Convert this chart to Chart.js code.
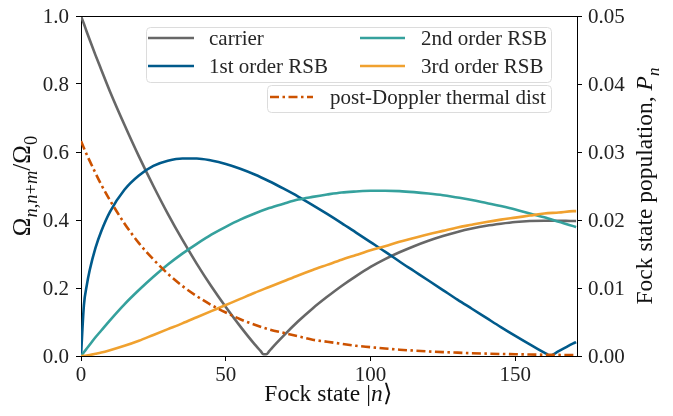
<!DOCTYPE html>
<html>
<head>
<meta charset="utf-8">
<script src="https://cdn.jsdelivr.net/npm/chart.js@4/dist/chart.umd.min.js"></script>
<style>
  html,body{margin:0;padding:0;background:#fff;}
  #wrap{position:relative;width:673px;height:416px;overflow:hidden;}
  canvas{position:absolute;left:0;top:0;}
</style>
</head>
<body>
<div id="wrap">
  <canvas id="c" width="673" height="416"></canvas>
</div>
<script>
// ---- data ----
const xTicks = [0, 50, 100, 150];
const yTicks = [0.0, 0.2, 0.4, 0.6, 0.8, 1.0];
const y2Ticks = [0.00, 0.01, 0.02, 0.03, 0.04, 0.05];

const seriesNames = ["carrier", "1st order RSB", "2nd order RSB", "3rd order RSB", "post-Doppler thermal dist"];

const nGrid = [0,1,2,3,5,7,10,15,20,25,30,35,40,45,50,55,60,65,70,75,80,85,90,95,100,105,110,115,120,125,130,135,140,145,150,155,160,165,170,171];

const carrierN = [0,1,2,3,5,7,10,15,20,25,30,35,40,45,50,55,60,62,63,64,65,66,70,75,80,85,90,95,100,105,110,115,120,125,130,135,140,145,150,155,160,165,170,171];
const carrierVals = [1.000,0.977,0.953,0.930,0.885,0.842,0.778,0.680,0.587,0.500,0.418,0.342,0.271,0.205,0.144,0.087,0.034,0.015,0.005,0.005,0.014,0.024,0.060,0.102,0.140,0.174,0.206,0.235,0.262,0.285,0.305,0.323,0.339,0.353,0.365,0.375,0.383,0.389,0.394,0.397,0.398,0.398,0.397,0.397];

const rsb1N = [0,1,2,3,5,7,10,15,20,25,30,35,40,45,50,55,60,65,70,75,80,85,90,95,100,105,110,115,120,125,130,135,140,145,150,155,160,161,162,163,165,170,171];
const rsb1Vals = [0,0.149,0.208,0.252,0.318,0.367,0.424,0.489,0.531,0.559,0.574,0.581,0.581,0.575,0.565,0.551,0.534,0.514,0.492,0.469,0.444,0.418,0.391,0.363,0.335,0.307,0.278,0.250,0.222,0.194,0.166,0.139,0.112,0.085,0.059,0.034,0.010,0.005,0.000,0.004,0.014,0.037,0.041];

const rsb2Vals = [0,0.011,0.022,0.033,0.055,0.075,0.105,0.152,0.194,0.233,0.269,0.301,0.330,0.357,0.380,0.401,0.419,0.435,0.448,0.460,0.468,0.475,0.481,0.484,0.486,0.486,0.485,0.482,0.478,0.473,0.466,0.459,0.450,0.441,0.431,0.419,0.408,0.395,0.382,0.379];

const rsb3Vals = [0,0.0006,0.0016,0.003,0.0064,0.010,0.017,0.030,0.045,0.062,0.079,0.096,0.114,0.132,0.150,0.168,0.186,0.203,0.220,0.237,0.253,0.268,0.283,0.297,0.311,0.323,0.336,0.347,0.358,0.368,0.378,0.386,0.394,0.401,0.407,0.413,0.419,0.422,0.426,0.426];

const thermalVals = [0.0316,0.0306,0.0296,0.0287,0.0269,0.0252,0.0229,0.0195,0.0166,0.0142,0.0121,0.0103,0.0088,0.0075,0.0064,0.0054,0.0046,0.0039,0.0034,0.0029,0.0024,0.0021,0.0018,0.0015,0.0013,0.0011,0.00093,0.00079,0.00067,0.00057,0.00049,0.00041,0.00035,0.0003,0.00026,0.00022,0.00019,0.00016,0.00014,0.00013];

// ---- styling ----
const colors = ["#676767", "#005a8b", "#35a19d", "#f0a12f", "#cc5200"];
const LW = 2.6;
const DASHDOT = [9, 3.5, 2.5, 3.5];
const FAMILY = "Liberation Serif";

function pts(xs, ys){ return xs.map((x,i)=>({x:x, y:ys[i]})); }

const seriesData = [
  pts(carrierN, carrierVals),
  pts(rsb1N, rsb1Vals),
  pts(nGrid, rsb2Vals),
  pts(nGrid, rsb3Vals),
  pts(nGrid, thermalVals)
];

const datasets = seriesData.map((d,i)=>({
  label: seriesNames[i],
  data: d,
  yAxisID: i === 4 ? 'y2' : 'y',
  borderColor: colors[i],
  backgroundColor: colors[i],
  borderWidth: LW,
  borderDash: i === 4 ? DASHDOT : [],
  borderCapStyle: 'butt',
  pointRadius: 0,
  fill: false,
  cubicInterpolationMode: 'monotone',
  order: 5 - i
}));

// ---- rich text helpers (canvas) ----
function fontOf(p){ return (p.it ? 'italic ' : '') + p.size + 'px "' + FAMILY + '"'; }
function drawRich(ctx, parts, x, y, rot, base){
  ctx.save();
  ctx.translate(x, y);
  ctx.rotate(rot);
  ctx.textBaseline = 'alphabetic';
  ctx.textAlign = 'left';
  let w = 0;
  parts.forEach(p => { ctx.font = fontOf(p); w += ctx.measureText(p.t).width; });
  let cx = -w / 2;
  parts.forEach(p => {
    ctx.font = fontOf(p);
    ctx.fillText(p.t, cx, p.sub ? base * 0.28 : 0);
    cx += ctx.measureText(p.t).width;
  });
  ctx.restore();
}

function roundBox(ctx, x, y, w, h, r){
  ctx.beginPath();
  if (ctx.roundRect) ctx.roundRect(x, y, w, h, r); else ctx.rect(x, y, w, h);
  ctx.fillStyle = 'rgba(255,255,255,0.85)';
  ctx.fill();
  ctx.strokeStyle = '#dcdcdc';
  ctx.lineWidth = 1;
  ctx.stroke();
}

const decor = {
  id: 'decor',
  afterDraw(chart){
    const {ctx, chartArea:a} = chart;
    ctx.save();
    // top spine
    ctx.strokeStyle = '#000';
    ctx.lineWidth = 1;
    ctx.beginPath();
    ctx.moveTo(a.left, a.top + 0.5);
    ctx.lineTo(a.right, a.top + 0.5);
    ctx.stroke();

    // tick labels, placed with the chart's own scales
    ctx.fillStyle = '#222';
    ctx.font = '21px "' + FAMILY + '"';
    ctx.textBaseline = 'middle';
    ctx.textAlign = 'center';
    xTicks.forEach(v => ctx.fillText(String(v), chart.scales.x.getPixelForValue(v), a.bottom + 19));
    ctx.textAlign = 'right';
    yTicks.forEach(v => ctx.fillText(v.toFixed(1), a.left - 12, chart.scales.y.getPixelForValue(v) + 1));
    ctx.textAlign = 'left';
    y2Ticks.forEach(v => ctx.fillText(v.toFixed(2), a.right + 11, chart.scales.y2.getPixelForValue(v) + 1));

    // legends
    roundBox(ctx, 146.5, 27.5, 405, 55, 4);
    roundBox(ctx, 267.5, 85.5, 284, 27, 4);
    const entries = [
      [148, 194, 38, 209, 0],
      [148, 194, 66, 209, 1],
      [360, 405, 38, 421, 2],
      [360, 405, 66, 421, 3],
      [270, 313, 97, 330, 4]
    ];
    entries.forEach(([x1, x2, yy, tx, i]) => {
      ctx.strokeStyle = colors[i];
      ctx.lineWidth = LW;
      ctx.lineCap = 'butt';
      ctx.setLineDash(i === 4 ? DASHDOT : []);
      ctx.beginPath();
      ctx.moveTo(x1, yy);
      ctx.lineTo(x2, yy);
      ctx.stroke();
      ctx.setLineDash([]);
      ctx.fillStyle = '#262626';
      ctx.font = '21px "' + FAMILY + '"';
      ctx.textBaseline = 'middle';
      ctx.textAlign = 'left';
      ctx.fillText(seriesNames[i], tx, yy + 1);
    });

    // axis titles
    ctx.fillStyle = '#111';
    const L = 25, S = 18.5;
    drawRich(ctx, [
      {t:'Ω', size:L}, {t:'n', size:S, it:true, sub:true}, {t:',', size:S, sub:true},
      {t:'n', size:S, it:true, sub:true}, {t:'+', size:S, sub:true}, {t:'m', size:S, it:true, sub:true},
      {t:'/Ω', size:L}, {t:'0', size:S, sub:true}
    ], 30, 186, -Math.PI/2, L);
    drawRich(ctx, [
      {t:'Fock state population, ', size:23.5}, {t:'P', size:23.5, it:true},
      {t:'n', size:17, it:true, sub:true}
    ], 652, 186, -Math.PI/2, 23.5);
    drawRich(ctx, [
      {t:'Fock state |', size:23.5}, {t:'n', size:23.5, it:true}, {t:'⟩', size:23.5}
    ], 328, 401, 0, 23.5);
    ctx.restore();
  }
};

const gridOpts = () => ({drawOnChartArea:false, drawTicks:true, tickLength:5, color:'#000', tickWidth:1});
const borderOpts = () => ({display:true, color:'#000', width:1});

new Chart(document.getElementById('c'), {
  type: 'line',
  data: {datasets},
  plugins: [decor],
  options: {
    responsive: false,
    animation: false,
    devicePixelRatio: 1,
    layout: {padding: {top: 16, left: 0, right: 0, bottom: 0}},
    plugins: {legend: {display:false}, tooltip: {enabled:false}},
    scales: {
      x: {
        type: 'linear', min: 0, max: 171.3,
        grid: gridOpts(), border: borderOpts(),
        afterBuildTicks: s => { s.ticks = xTicks.map(v=>({value:v})); },
        afterFit: s => { s.height = 60; },
        ticks: {display: false}
      },
      y: {
        type: 'linear', position: 'left', min: 0, max: 1,
        grid: gridOpts(), border: borderOpts(),
        afterBuildTicks: s => { s.ticks = yTicks.map(v=>({value:v})); },
        afterFit: s => { s.width = 81; },
        ticks: {display: false}
      },
      y2: {
        type: 'linear', position: 'right', min: 0, max: 0.05,
        grid: gridOpts(), border: borderOpts(),
        afterBuildTicks: s => { s.ticks = y2Ticks.map(v=>({value:v})); },
        afterFit: s => { s.width = 96; },
        ticks: {display: false}
      }
    }
  }
});
</script>
</body>
</html>
